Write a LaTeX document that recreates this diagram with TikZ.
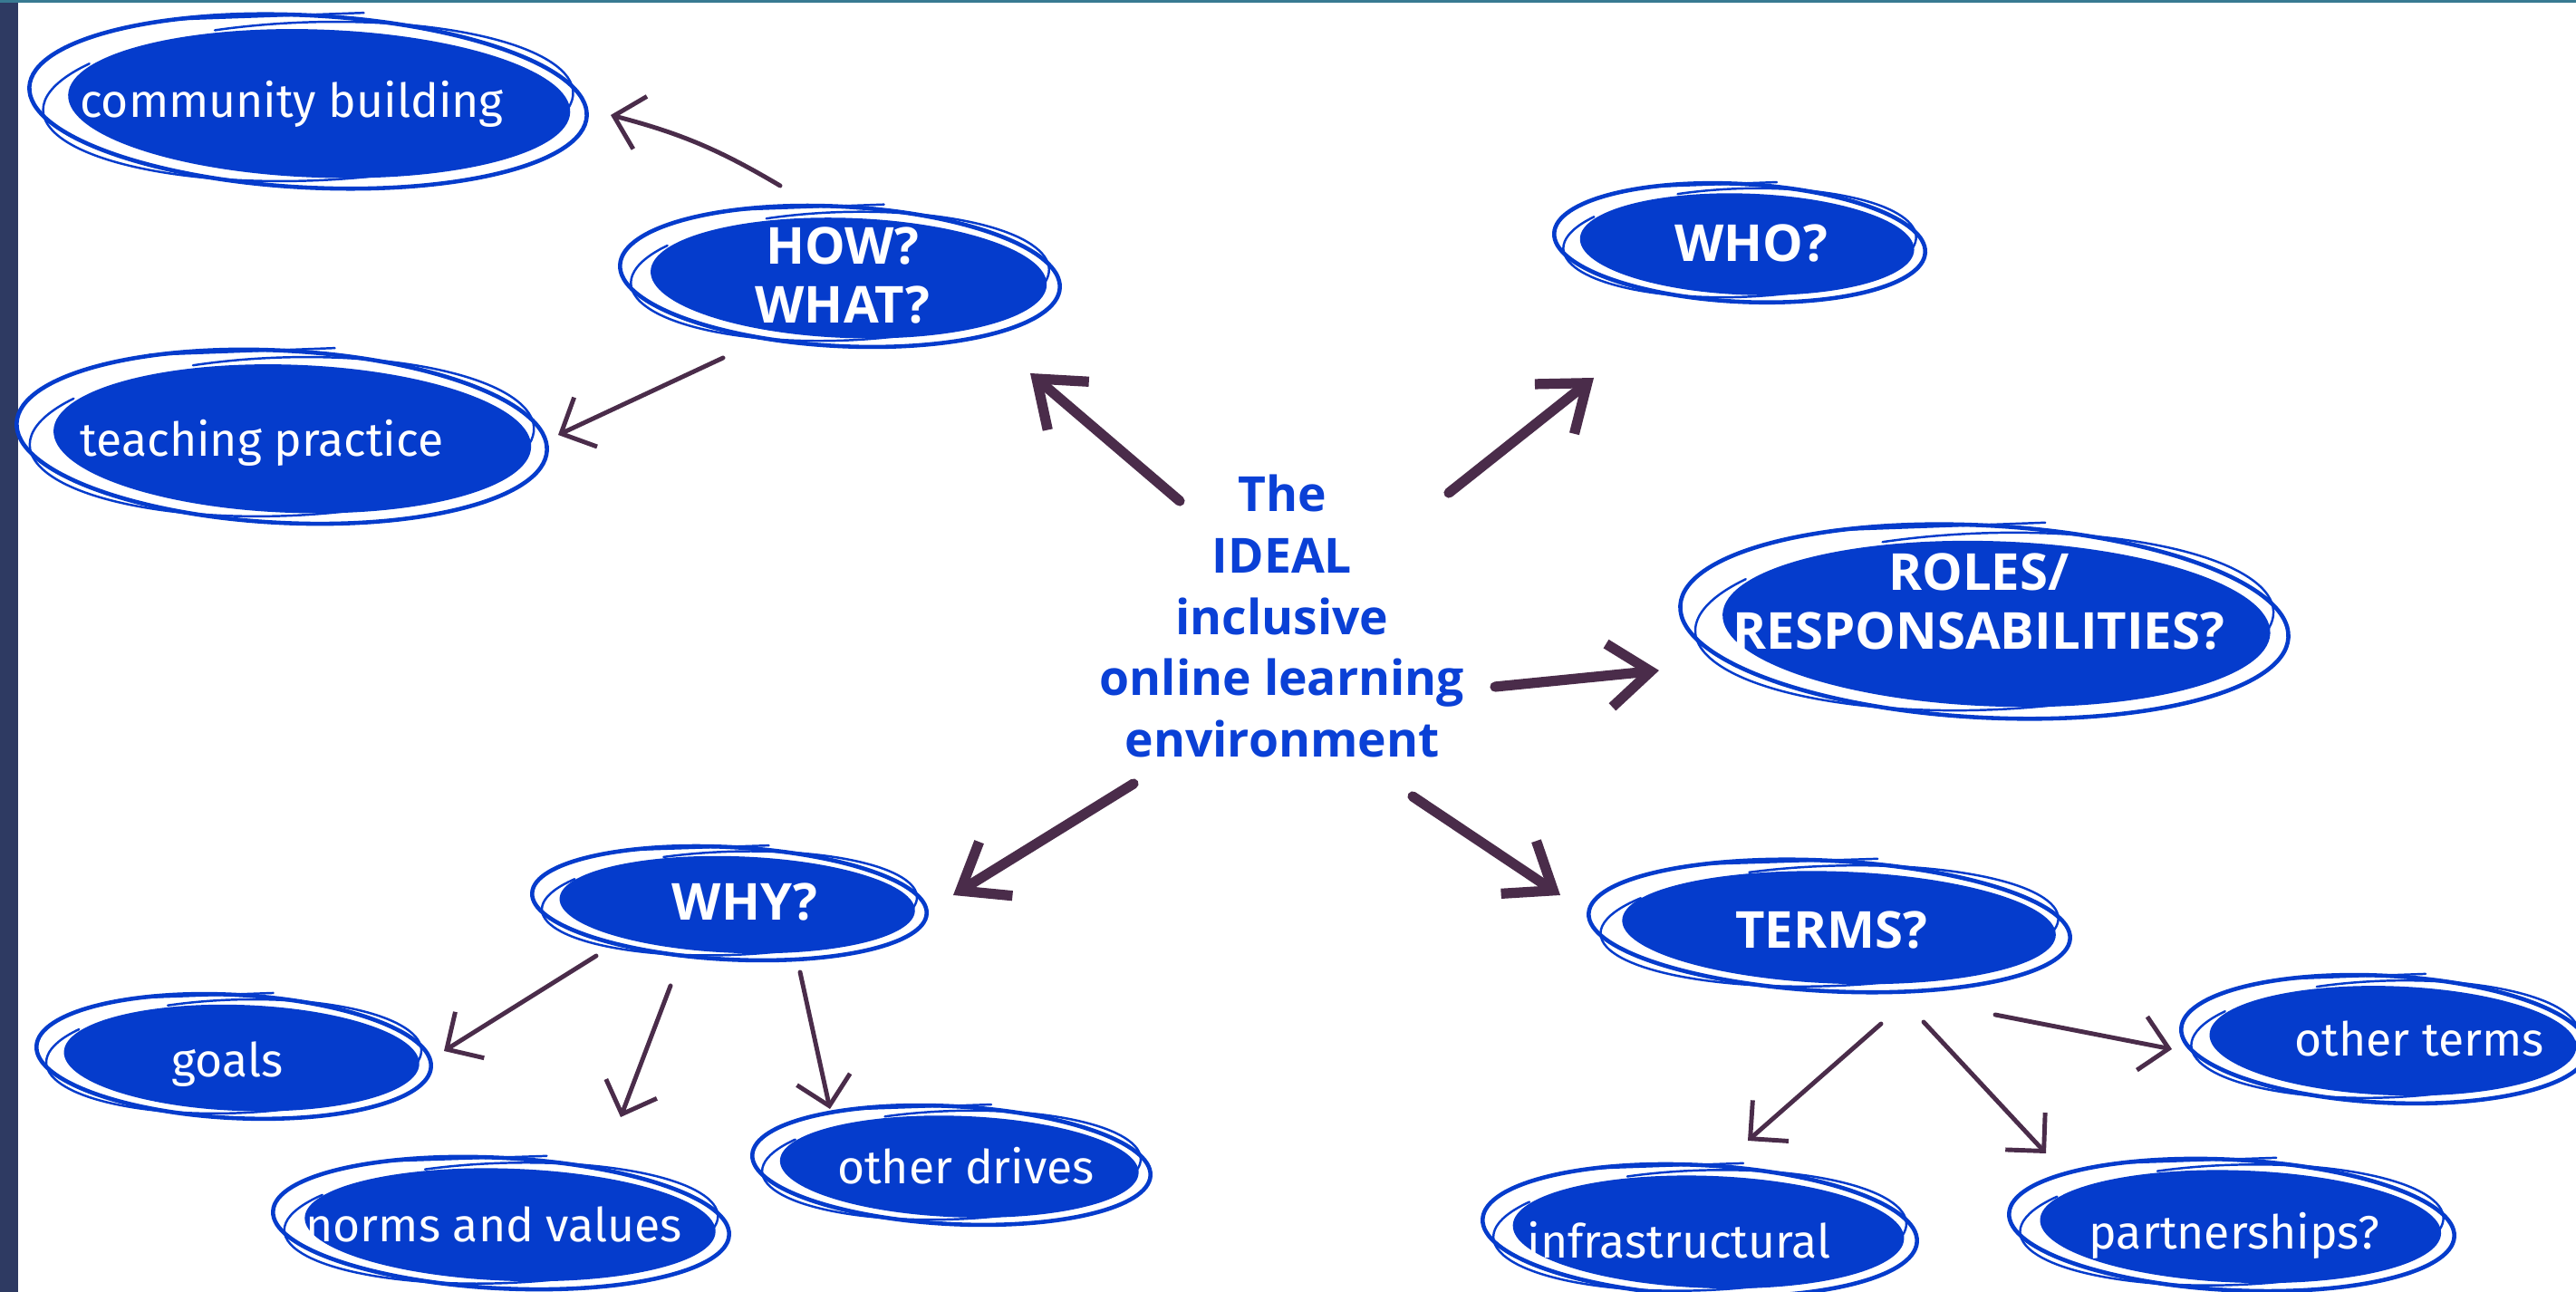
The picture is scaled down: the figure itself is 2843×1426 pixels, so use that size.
\documentclass[tikz,border=0pt]{standalone}
\usepackage{fontspec}
\setmainfont{Fira Sans}
\newfontfamily\capsfont{Open Sans}
\usepackage{tikz}
\usetikzlibrary{arrows.meta, positioning, backgrounds, calc}

\definecolor{ideablue}{RGB}{5,60,204}
\definecolor{hubblue}{RGB}{10,64,214}
\definecolor{arrowplum}{RGB}{74,44,74}
\definecolor{sidenavy}{RGB}{46,58,98}
\definecolor{topteal}{RGB}{56,122,146}

% sketchy bubble behind a label: node, dx, dy, rx, ry
\newcommand{\bubble}[5]{%
  \coordinate (#1-c) at ([shift={(#2,#3)}]#1.center);
  \fill[ideablue, rotate around={-2:(#1-c)}] ($(#1-c)+({0.04*#4},{0.02*#5})$) ellipse [x radius={0.9*#4}, y radius={0.86*#5}];
  \draw[ring, rotate around={-3:(#1-c)}] (#1-c) ellipse [x radius=#4, y radius=#5];
  \draw[ring, thin ring, rotate around={2:(#1-c)}]
    ($(#1-c)+({0.95*#4*cos(250)},{0.92*#5*sin(250)})$)
    arc [start angle=250, end angle=575, x radius={0.95*#4}, y radius={0.92*#5}];
  \draw[ring, thin ring] ($(#1-c)+({-0.5*#4},{-0.95*#5})$) -- ($(#1-c)+({0.2*#4},{-1.03*#5})$);
}

\begin{document}
\begin{tikzpicture}[x=0.1mm, y=-0.1mm,
    % label styles
    lbl/.style={text=white, inner sep=0pt, font=\fontsize{14.7}{18}\selectfont,
                text height=7.9pt, text depth=0pt},
    caplbl/.style={text=white, inner sep=0pt, align=center,
                   font=\capsfont\bfseries\fontsize{16}{18.5}\selectfont},
    hubtext/.style={text=hubblue, inner sep=0pt, align=center,
                    font=\capsfont\bfseries\fontsize{15.2}{19.3}\selectfont},
    % bubble strokes
    ring/.style={draw=ideablue, line width=1.3pt, line cap=round},
    thin ring/.style={line width=0.7pt},
    % connectors
    bigarrow/.style={-{Straight Barb[length=4.6mm, width=7mm]}, draw=arrowplum,
                     line width=3.2pt, line cap=round, line join=round},
    smallarrow/.style={-{Straight Barb[length=3mm, width=6mm]}, draw=arrowplum,
                       line width=1.4pt, line cap=round, line join=round}
]
\useasboundingbox (0,0) rectangle (2843,1426);

% Labels
\node[lbl] (comm) at (322,116) {community building};
\node[caplbl] (how) at (930,304) {HOW?\\WHAT?};
\node[lbl] (teach) at (289,490) {teaching practice};
\node[caplbl] (who) at (1933,268) {WHO?};
\node[caplbl] (roles) at (2184,664) {ROLES/\\RESPONSABILITIES?};
\node[hubtext] (ideal) at (1415,680) {The\\IDEAL\\inclusive\\online learning\\environment};
\node[caplbl] (why) at (822,996) {WHY?};
\node[caplbl] (terms) at (2021,1027) {TERMS?};
\node[lbl] (goals) at (251,1175) {goals};
\node[lbl] (norms) at (545,1357) {norms and values};
\node[lbl] (drives) at (1066,1293) {other drives};
\node[lbl] (infra) at (1853,1375) {infrastructural};
\node[lbl] (partner) at (2466,1365) {partnerships?};
\node[lbl] (oterms) at (2670,1152) {other terms};

% Page and bubbles
\begin{scope}[on background layer]
  \fill[white] (0,0) rectangle (2843,1426);
  \fill[sidenavy] (0,0) rectangle (20,1426);
  \fill[topteal] (0,0) rectangle (2843,3);
  \bubble{comm}{18}{-4}{308}{95}
  \bubble{how}{-3}{1}{243}{77}
  \bubble{teach}{22}{-8}{293}{95}
  \bubble{who}{-13}{0}{205}{65}
  \bubble{roles}{6}{22}{336}{106}
  \bubble{why}{-17}{1}{218}{62}
  \bubble{terms}{-2}{-5}{266}{72}
  \bubble{goals}{7}{-9}{218}{68}
  \bubble{norms}{8}{-7}{252}{72}
  \bubble{drives}{-16}{-7}{220}{65}
  \bubble{infra}{23}{-17}{240}{72}
  \bubble{partner}{-3}{-13}{246}{72}
  \bubble{oterms}{-38}{-5}{225}{70}
\end{scope}

% Hub to questions
\draw[bigarrow] ([shift={(-113,-127)}]ideal.center) -- ([shift={(207,108)}]how.center);
\draw[bigarrow] ([shift={(184,-136)}]ideal.center) -- ([shift={(-174,149)}]who.center);
\draw[bigarrow] ([shift={(235,78)}]ideal.center) -- ([shift={(-353,76)}]roles.center);
\draw[bigarrow] ([shift={(-164,185)}]ideal.center) -- ([shift={(230,-8)}]why.center);
\draw[bigarrow] ([shift={(144,199)}]ideal.center) -- ([shift={(-299,-39)}]terms.center);

% HOW/WHAT branches
\draw[smallarrow] ([shift={(-69,-99)}]how.center) to[bend right=8] ([shift={(352,11)}]comm.center);
\draw[smallarrow] ([shift={(-132,91)}]how.center) -- ([shift={(327,-10)}]teach.center);

% WHY branches
\draw[smallarrow] ([shift={(-164,59)}]why.center) -- ([shift={(239,-15)}]goals.center);
\draw[smallarrow] ([shift={(-82,92)}]why.center) -- ([shift={(140,-124)}]norms.center);
\draw[smallarrow] ([shift={(61,77)}]why.center) -- ([shift={(-150,-69)}]drives.center);

% TERMS branches
\draw[smallarrow] ([shift={(55,103)}]terms.center) -- ([shift={(76,-116)}]infra.center);
\draw[smallarrow] ([shift={(102,101)}]terms.center) -- ([shift={(-208,-92)}]partner.center);
\draw[smallarrow] ([shift={(181,93)}]terms.center) -- ([shift={(-273,6)}]oterms.center);

\end{tikzpicture}
\end{document}
